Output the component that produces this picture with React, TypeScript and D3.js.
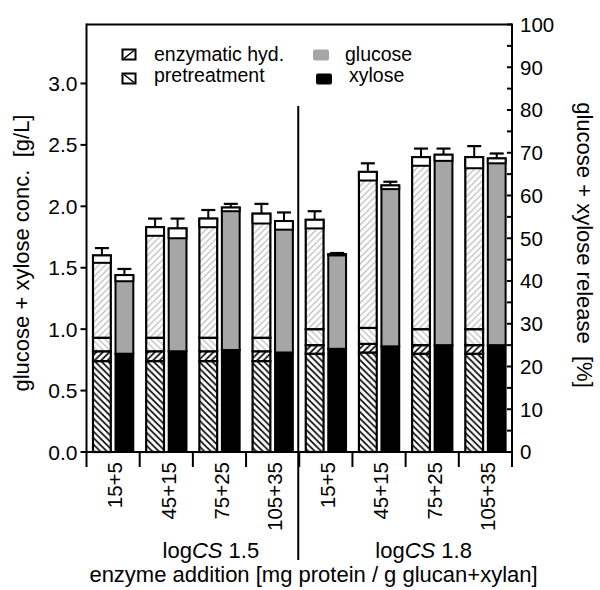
import React from 'react';
import * as d3 from 'd3';

// ---- data (g/L) ----
const groupLabels = ['15+5', '45+15', '75+25', '105+35', '15+5', '45+15', '75+25', '105+35'];
const severity = ['1.5', '1.8'];
// bar A: stacked contributions (xylose pretreatment, xylose enzymatic, glucose pretreatment, glucose enzymatic)
const pretXyl = [0.74, 0.74, 0.74, 0.74, 0.80, 0.81, 0.80, 0.80];
const enzXyl = [0.08, 0.08, 0.08, 0.08, 0.07, 0.07, 0.07, 0.07];
const pretGlu = [0.11, 0.11, 0.11, 0.11, 0.13, 0.13, 0.13, 0.13];
const enzGlu = [0.67, 0.90, 0.97, 1.01, 0.89, 1.27, 1.40, 1.40];
const errA = [0.06, 0.07, 0.07, 0.08, 0.07, 0.07, 0.07, 0.09];
// bar B: measured xylose + glucose
const xylB = [0.80, 0.82, 0.83, 0.81, 0.84, 0.86, 0.87, 0.87];
const gluB = [0.64, 1.00, 1.16, 1.07, 0.77, 1.31, 1.55, 1.52];
const errB = [0.05, 0.08, 0.03, 0.07, 0.01, 0.03, 0.05, 0.04];

const leftTicks = [0, 0.5, 1.0, 1.5, 2.0, 2.5, 3.0];
const rightTicks = [0, 10, 20, 30, 40, 50, 60, 70, 80, 90, 100];
const rightMinor = [5, 15, 25, 35, 45, 55, 65, 75, 85, 95];

const FONT = '"Liberation Sans", Arial, Helvetica, sans-serif';
const GREY = '#a6a6a6';
const HATCH_GREY = '#bcbcbc';

export default function App() {
  const W = 600, H = 590;
  const x0 = 86.5, x1 = 512, yT = 24.5, yB = 452;
  const yL = d3.scaleLinear().domain([0, 3.48]).range([yB, yT]);
  const yR = d3.scaleLinear().domain([0, 100]).range([yB, yT]);
  const xb = d3.scaleBand<number>().domain(d3.range(8)).range([x0, x1]).padding(0);
  const bw = 17.8;
  const offA = 6.5, offB = 29;

  const bars: JSX.Element[] = [];
  const errs: JSX.Element[] = [];
  const errBar = (key: string, xl: number, top: number, e: number) => {
    const cx = xl + bw / 2;
    return (
      <g key={key}>
        <rect x={xl} y={yL(top)} width={bw} height={yL(top - e) - yL(top)} fill="#fff" stroke="#000" strokeWidth={2} />
        <line x1={cx} x2={cx} y1={yL(top)} y2={yL(top + e)} stroke="#000" strokeWidth={2} />
        <line x1={cx - 7} x2={cx + 7} y1={yL(top + e)} y2={yL(top + e)} stroke="#000" strokeWidth={2.2} />
      </g>
    );
  };

  groupLabels.forEach((_, i) => {
    const xa = (xb(i) as number) + offA;
    const xB = (xb(i) as number) + offB;
    const segs = [
      { v: pretXyl[i], f: 'url(#hBlackBack)' },
      { v: enzXyl[i], f: 'url(#hBlackFwd)' },
      { v: pretGlu[i], f: 'url(#hGreyBack)' },
      { v: enzGlu[i], f: 'url(#hGreyFwd)' },
    ];
    let cum = 0;
    segs.forEach((s, j) => {
      const b = cum, t = cum + s.v;
      cum = t;
      bars.push(
        <rect key={`a${i}-${j}`} x={xa} y={yL(t)} width={bw} height={yL(b) - yL(t)} fill={s.f} stroke="#000" strokeWidth={2.2} />
      );
    });
    errs.push(errBar(`ea${i}`, xa, cum, errA[i]));
    const tB = xylB[i] + gluB[i];
    bars.push(
      <rect key={`bx${i}`} x={xB} y={yL(xylB[i])} width={bw} height={yL(0) - yL(xylB[i])} fill="#000" stroke="#000" strokeWidth={2} />
    );
    bars.push(
      <rect key={`bg${i}`} x={xB} y={yL(tB)} width={bw} height={yL(xylB[i]) - yL(tB)} fill={GREY} stroke="#000" strokeWidth={2} />
    );
    errs.push(errBar(`eb${i}`, xB, tB, errB[i]));
  });

  const half = (x1 - x0) / 2;

  return (
    <svg width={W} height={H} style={{ position: 'absolute', left: 0, top: 0, background: '#fff' }} fontFamily={FONT}>
      <defs>
        <pattern id="hBlackBack" patternUnits="userSpaceOnUse" width={6.5} height={6.5}>
          <rect width={6.5} height={6.5} fill="#fff" />
          <path d="M0,0L6.5,6.5M-1,5.5L1,7.5M5.5,-1L7.5,1" stroke="#000" strokeWidth={1.6} />
        </pattern>
        <pattern id="hBlackFwd" patternUnits="userSpaceOnUse" width={6.5} height={6.5}>
          <rect width={6.5} height={6.5} fill="#fff" />
          <path d="M0,6.5L6.5,0M-1,1L1,-1M5.5,7.5L7.5,5.5" stroke="#000" strokeWidth={1.6} />
        </pattern>
        <pattern id="hGreyBack" patternUnits="userSpaceOnUse" width={6.5} height={6.5}>
          <rect width={6.5} height={6.5} fill="#fff" />
          <path d="M0,0L6.5,6.5M-1,5.5L1,7.5M5.5,-1L7.5,1" stroke={HATCH_GREY} strokeWidth={1.2} />
        </pattern>
        <pattern id="hGreyFwd" patternUnits="userSpaceOnUse" width={6.5} height={6.5}>
          <rect width={6.5} height={6.5} fill="#fff" />
          <path d="M0,6.5L6.5,0M-1,1L1,-1M5.5,7.5L7.5,5.5" stroke={HATCH_GREY} strokeWidth={1.2} />
        </pattern>
      </defs>

      {bars}
      {errs}

      {/* frame */}
      <line x1={x0} x2={x1} y1={yT} y2={yT} stroke="#000" strokeWidth={2} />
      <line x1={x0} x2={x1} y1={yB} y2={yB} stroke="#000" strokeWidth={2} />
      <line x1={x0} x2={x0} y1={yT - 1} y2={467} stroke="#000" strokeWidth={2} />
      <line x1={x1} x2={x1} y1={yT - 1} y2={467} stroke="#000" strokeWidth={2} />

      {/* group separator ticks */}
      {d3.range(1, 8).map((i) => (
        <line key={`gt${i}`} x1={xb(i)} x2={xb(i)} y1={yB} y2={467} stroke="#000" strokeWidth={2} />
      ))}
      {/* severity divider */}
      <line x1={xb(4)! - 1} x2={xb(4)! - 1} y1={106} y2={560} stroke="#000" strokeWidth={2} />

      {/* left axis */}
      {leftTicks.map((t) => (
        <g key={`lt${t}`}>
          <line x1={x0 - 6} x2={x0} y1={yL(t)} y2={yL(t)} stroke="#000" strokeWidth={2} />
          <text x={x0 - 9} y={yL(t)} dy="0.36em" textAnchor="end" fontSize={21}>{t.toFixed(1)}</text>
        </g>
      ))}
      {/* right axis */}
      {rightTicks.map((t) => (
        <g key={`rt${t}`}>
          <line x1={x1 - 5} x2={x1} y1={yR(t)} y2={yR(t)} stroke="#000" strokeWidth={2} />
          <text x={x1 + 8} y={yR(t)} dy="0.36em" textAnchor="start" fontSize={20.5}>{t}</text>
        </g>
      ))}
      {rightMinor.map((t) => (
        <line key={`rm${t}`} x1={x1 - 5} x2={x1} y1={yR(t)} y2={yR(t)} stroke="#000" strokeWidth={2} />
      ))}

      {/* x tick labels */}
      {groupLabels.map((g, i) => {
        const cx = (xb(i) as number) + xb.bandwidth() / 2 + 2;
        return (
          <text key={`xl${i}`} transform={`translate(${cx},462) rotate(-90)`} dy="0.36em" textAnchor="end" fontSize={20.5}>{g}</text>
        );
      })}

      {/* severity labels */}
      {severity.map((s, k) => (
        <text key={`sv${k}`} x={x0 + half * k + half / 2 + 18} y={558} textAnchor="middle" fontSize={22}>
          log<tspan fontStyle="italic">CS</tspan> {s}
        </text>
      ))}
      <text x={313.5} y={582} textAnchor="middle" fontSize={22}>enzyme addition [mg protein / g glucan+xylan]</text>

      {/* axis titles */}
      <text transform={`translate(29,253) rotate(-90)`} textAnchor="middle" fontSize={22} style={{ whiteSpace: 'pre' }}>{'glucose + xylose conc.  [g/L]'}</text>
      <text transform={`translate(577,245) rotate(90)`} textAnchor="middle" fontSize={22} style={{ whiteSpace: 'pre' }}>{'glucose + xylose release  [%]'}</text>

      {/* legend */}
      <g>
        <rect x={122.5} y={49.5} width={13} height={10} fill="#fff" stroke="#000" strokeWidth={2} />
        <line x1={124} x2={134} y1={58.5} y2={50.5} stroke="#000" strokeWidth={1.6} />
        <text x={154} y={60.5} fontSize={19.5}>enzymatic hyd.</text>
        <rect x={122.5} y={73.5} width={13} height={10} fill="#fff" stroke="#000" strokeWidth={2} />
        <line x1={124} x2={134} y1={74.5} y2={82.5} stroke="#000" strokeWidth={1.6} />
        <text x={154} y={82} fontSize={19.5}>pretreatment</text>
        <rect x={313} y={49.5} width={16} height={11} rx={2} fill={GREY} />
        <text x={345} y={60.5} fontSize={19.5}>glucose</text>
        <rect x={316} y={73.5} width={16} height={11} rx={2} fill="#000" />
        <text x={349} y={82} fontSize={19.5}>xylose</text>
      </g>
    </svg>
  );
}
